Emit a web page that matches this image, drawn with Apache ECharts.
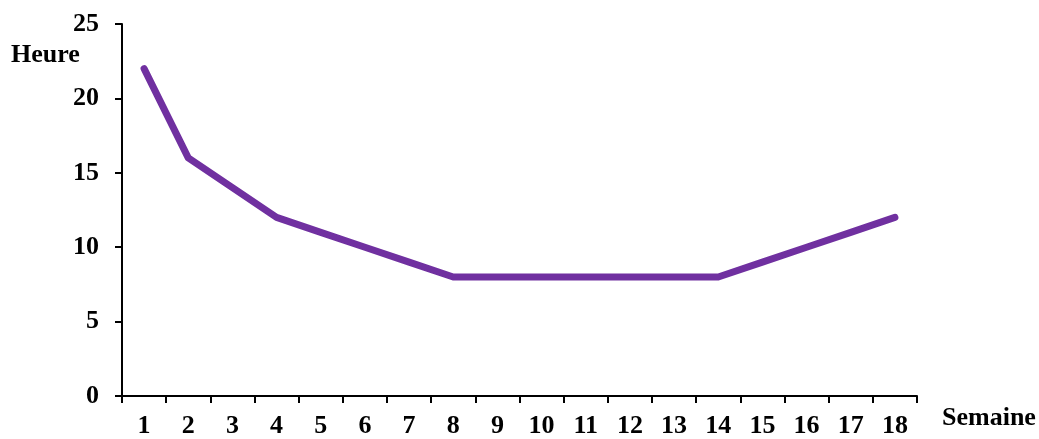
<!DOCTYPE html>
<html>
<head>
<meta charset="utf-8">
<script src="https://cdn.jsdelivr.net/npm/echarts@6/dist/echarts.min.js"></script>
<style>
  html, body { margin: 0; padding: 0; background: #fff; }
  #chart { width: 1039px; height: 439px; }
</style>
</head>
<body>
<div id="chart"></div>
<script>
// Weekly hours
const weeks = ['1','2','3','4','5','6','7','8','9','10','11','12','13','14','15','16','17','18'];
const hours = [22, 16, 14, 12, 11, 10, 9, 8, 8, 8, 8, 8, 8, 8, 9, 10, 11, 12];
const yTicks = { min: 0, max: 25, interval: 5 };

const font = 'Liberation Serif, Times New Roman, serif';
const axisLine = { show: true, lineStyle: { color: '#000', width: 2 } };

const chart = echarts.init(document.getElementById('chart'));
chart.setOption({
  animation: false,
  grid: { left: 122, right: 122, top: 24, bottom: 40, containLabel: false },
  xAxis: {
    type: 'category',
    data: weeks,
    boundaryGap: true,
    axisLine: axisLine,
    axisTick: { show: true, inside: false, length: 7, alignWithLabel: false, lineStyle: { color: '#000', width: 2 } },
    axisLabel: { color: '#000', fontFamily: font, fontWeight: 'bold', fontSize: 26, margin: 17, interval: 0 },
    splitLine: { show: false },
    name: 'Semaine',
    nameLocation: 'end',
    nameGap: 25,
    nameTextStyle: { color: '#000', fontFamily: font, fontWeight: 'bold', fontSize: 26, verticalAlign: 'top', padding: [9, 0, 0, 0] }
  },
  yAxis: {
    type: 'value',
    min: yTicks.min,
    max: yTicks.max,
    interval: yTicks.interval,
    axisLine: axisLine,
    axisTick: { show: true, length: 7, lineStyle: { color: '#000', width: 2 } },
    axisLabel: { color: '#000', fontFamily: font, fontWeight: 'bold', fontSize: 26, margin: 23 },
    splitLine: { show: false }
  },
  graphic: [{
    type: 'text',
    left: 11,
    top: 42,
    style: { text: 'Heure', fill: '#000', font: 'bold 26px ' + font }
  }],
  series: [{
    type: 'line',
    data: hours,
    symbol: 'none',
    lineStyle: { color: '#7030A0', width: 7, cap: 'round', join: 'round' }
  }]
});
</script>
</body>
</html>
